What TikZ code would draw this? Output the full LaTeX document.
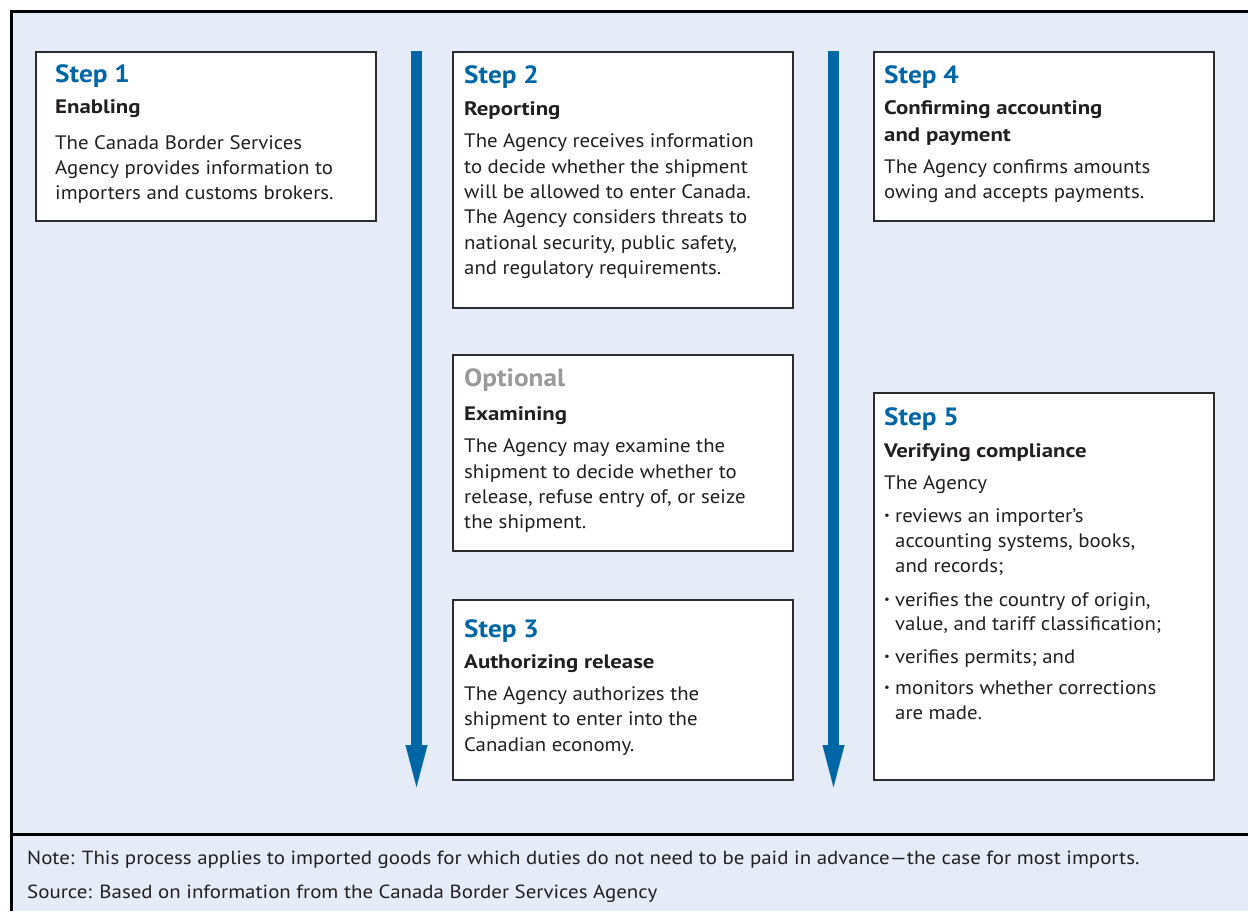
\documentclass[tikz,border=0pt]{standalone}
\usepackage{fontspec}
\setmainfont{PT Sans}
\newfontfamily\bodyf[FakeStretch=1.067]{PT Sans}
\newfontfamily\subf[FakeStretch=1.17]{PT Sans}
\newfontfamily\headf[FakeStretch=1.09]{PT Sans}
\newfontfamily\notef[FakeStretch=1.1]{PT Sans}
\usetikzlibrary{arrows.meta}
\definecolor{bgblue}{HTML}{E5ECF8}
\definecolor{stepblue}{HTML}{0066A6}
\definecolor{ink}{HTML}{231F20}
\definecolor{optgray}{HTML}{9A9A9A}
\definecolor{boxline}{HTML}{2E2B2C}
\newcommand{\smallbul}{\raisebox{0.25ex}{\fontsize{12}{12}\selectfont\textbullet}}
\tikzset{
  stepbox/.style={draw=boxline, line width=2pt, fill=white, anchor=north west, inner sep=0pt},
  head/.style={anchor=base west, inner sep=0pt, text=stepblue, font=\headf\fontsize{25}{30}\selectfont\bfseries},
  opthead/.style={head, text=optgray},
  sub/.style={anchor=base west, inner sep=0pt, text=ink, font=\subf\fontsize{19.5}{23}\selectfont\bfseries},
  body/.style={anchor=base west, inner sep=0pt, text=ink, font=\bodyf\fontsize{19.5}{23}\selectfont},
  note/.style={anchor=base west, inner sep=0pt, text=ink, font=\notef\fontsize{19}{22}\selectfont},
  flow/.style={draw=stepblue, line width=11pt, -{Triangle[width=22pt,length=42pt,line width=0.1pt]}},
}
\begin{document}
\begin{tikzpicture}[x=1pt,y=-1pt]
\useasboundingbox (0,0) rectangle (1248,911);
\fill[white] (0,0) rectangle (1248,911);
\fill[bgblue] (11,11) rectangle (1248,911);
\draw[line width=3pt,black] (11,911) -- (11,11) -- (1248,11);
\draw[line width=3pt,black] (11,834) -- (1248,834);

% arrows
\coordinate (a1s) at (416.5,51);
\coordinate (a1e) at (416.5,787);
\coordinate (a2s) at (833.5,51);
\coordinate (a2e) at (833.5,787);
\draw[flow] (a1s) -- (a1e);
\draw[flow] (a2s) -- (a2e);

% boxes
\node[stepbox, minimum width=340pt, minimum height=169pt] (b1) at (35,51) {};
\node[stepbox, minimum width=340pt, minimum height=256pt] (b2) at (452,51) {};
\node[stepbox, minimum width=340pt, minimum height=196pt] (bo) at (452,354) {};
\node[stepbox, minimum width=340pt, minimum height=180pt] (b3) at (452,599) {};
\node[stepbox, minimum width=340pt, minimum height=169pt] (b4) at (873,51) {};
\node[stepbox, minimum width=340pt, minimum height=387pt] (b5) at (873,392) {};

% Step 1
\node[head] (h1) at (55,82) {Step 1};
\node[sub] (s1) at (55,113) {Enabling};
\node[body] (t1a) at (55,149) {The Canada Border Services};
\node[body] (t1b) at (55,174) {Agency provides information to};
\node[body] (t1c) at (55,199) {importers and customs brokers.};

% Step 2
\node[head] (h2) at (464,83) {Step 2};
\node[sub] (s2) at (464,115) {Reporting};
\node[body] (t2a) at (464,147) {The Agency receives information};
\node[body] (t2b) at (464,173) {to decide whether the shipment};
\node[body] (t2c) at (464,198) {will be allowed to enter Canada.};
\node[body] (t2d) at (464,223) {The Agency considers threats to};
\node[body] (t2e) at (464,249) {national security, public safety,};
\node[body] (t2f) at (464,274) {and regulatory requirements.};

% Optional
\node[opthead] (ho) at (464,386) {Optional};
\node[sub] (so) at (464,420) {Examining};
\node[body] (toa) at (464,452) {The Agency may examine the};
\node[body] (tob) at (464,478) {shipment to decide whether to};
\node[body] (toc) at (464,503) {release, refuse entry of, or seize};
\node[body] (tod) at (464,528) {the shipment.};

% Step 3
\node[head] (h3) at (464,637) {Step 3};
\node[sub] (s3) at (464,668) {Authorizing release};
\node[body] (t3a) at (464,700) {The Agency authorizes the};
\node[body] (t3b) at (464,725) {shipment to enter into the};
\node[body] (t3c) at (464,751) {Canadian economy.};

% Step 4
\node[head] (h4) at (884,83) {Step 4};
\node[sub] (s4a) at (884,114) {Confirming accounting};
\node[sub] (s4b) at (884,141) {and payment};
\node[body] (t4a) at (884,173) {The Agency confirms amounts};
\node[body] (t4b) at (884,198) {owing and accepts payments.};

% Step 5
\node[head] (h5) at (884,425) {Step 5};
\node[sub] (s5) at (884,457) {Verifying compliance};
\node[body] (t5a) at (884,489) {The Agency};
\node[body] (u1) at (884,522) {\smallbul};
\node[body] (t5b) at (895,522) {reviews an importer’s};
\node[body] (t5c) at (895,547) {accounting systems, books,};
\node[body] (t5d) at (895,572) {and records;};
\node[body] (u2) at (884,606) {\smallbul};
\node[body] (t5e) at (895,606) {verifies the country of origin,};
\node[body] (t5f) at (895,630) {value, and tariff classification;};
\node[body] (u3) at (884,663) {\smallbul};
\node[body] (t5g) at (895,663) {verifies permits; and};
\node[body] (u4) at (884,694) {\smallbul};
\node[body] (t5h) at (895,694) {monitors whether corrections};
\node[body] (t5i) at (895,719) {are made.};

% notes
\node[note] (n1) at (27,864) {Note: This process applies to imported goods for which duties do not need to be paid in advance—the case for most imports.};
\node[note] (n2) at (27,898) {Source: Based on information from the Canada Border Services Agency};
\end{tikzpicture}
\end{document}
